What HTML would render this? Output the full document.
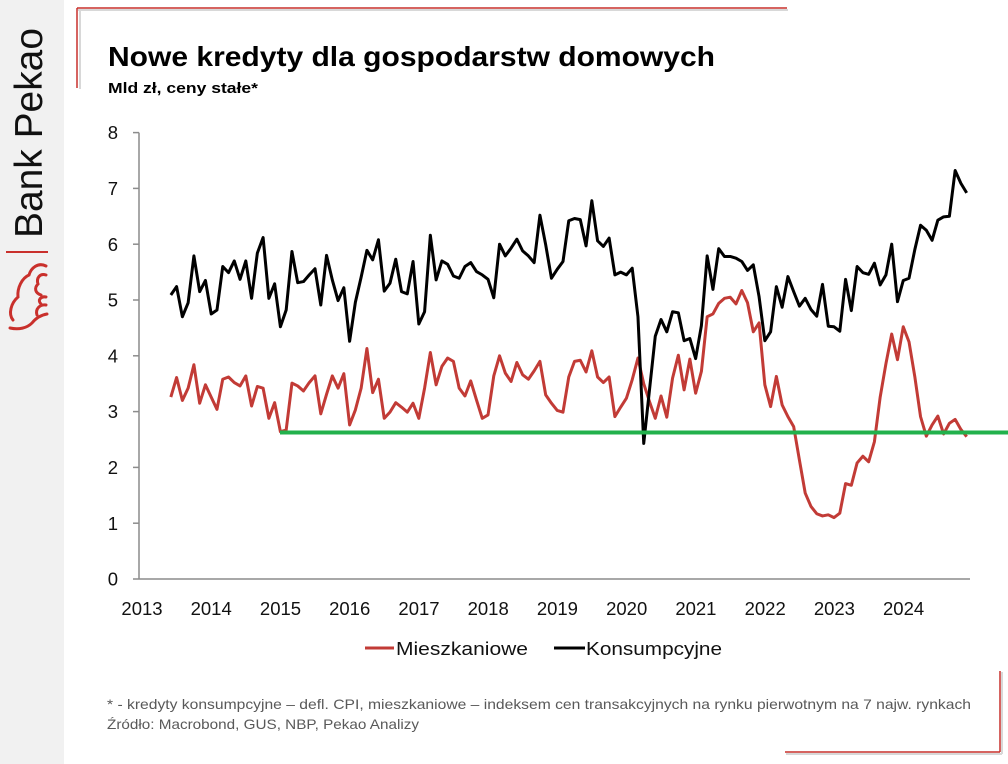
<!DOCTYPE html>
<html>
<head>
<meta charset="utf-8">
<style>
  html, body { margin: 0; padding: 0; background: #ffffff; }
  body { width: 1008px; height: 764px; overflow: hidden; position: relative; }
  svg { display: block; }
  text { font-family: "Liberation Sans", "DejaVu Sans", sans-serif; }
</style>
</head>
<body>
<svg width="1008" height="764" viewBox="0 0 1008 764" xmlns="http://www.w3.org/2000/svg">
  <!-- background -->
  <rect x="0" y="0" width="1008" height="764" fill="#ffffff"/>
  <rect x="0" y="0" width="64" height="764" fill="#f1f1f1"/>

  <!-- left brand -->
  <text transform="translate(42,238) rotate(-90)" font-size="39" fill="#111111" textLength="210" lengthAdjust="spacingAndGlyphs">Bank Pekao</text>
  <line x1="6" y1="252" x2="48" y2="252" stroke="#c9302c" stroke-width="2"/>
  <g fill="none" stroke="#c9302c" stroke-width="3" stroke-linecap="round">
    <path d="M46,266 C38,262 31,268 29,275 C22,278 17,288 18,297 C11,303 8,314 13,320"/>
    <path d="M10,328 C19,330 27,328 32,323 C36,318 41,315 47,314"/>
    <path d="M46,275 C40,273 36,278 38,284 C34,288 35,293 41,295"/>
    <path d="M46,297 C41,296 37,300 41,304"/>
    <path d="M46,305 C40,304 35,309 37,315"/>
  </g>

  <!-- decorative frames -->
  <line x1="78" y1="10" x2="788" y2="10" stroke="#d8d8d8" stroke-width="2"/>
  <line x1="80" y1="10" x2="80" y2="89" stroke="#d8d8d8" stroke-width="2"/>
  <line x1="77" y1="8" x2="787" y2="8" stroke="#c9302c" stroke-width="1.5"/>
  <line x1="77" y1="8" x2="77" y2="88" stroke="#c9302c" stroke-width="1.5"/>

  <line x1="1002" y1="672" x2="1002" y2="754" stroke="#d8d8d8" stroke-width="2"/>
  <line x1="786" y1="754" x2="1002" y2="754" stroke="#d8d8d8" stroke-width="2"/>
  <line x1="1000" y1="671" x2="1000" y2="752" stroke="#c9302c" stroke-width="1.5"/>
  <line x1="785" y1="752" x2="1000" y2="752" stroke="#c9302c" stroke-width="1.5"/>

  <!-- titles -->
  <text x="108" y="66" font-size="28" font-weight="bold" fill="#000" textLength="607" lengthAdjust="spacingAndGlyphs">Nowe kredyty dla gospodarstw domowych</text>
  <text x="108" y="93" font-size="15" font-weight="bold" fill="#000" textLength="150" lengthAdjust="spacingAndGlyphs">Mld zł, ceny stałe*</text>

  <!-- axes -->
  <g stroke="#8c8c8c" stroke-width="1.5">
    <line x1="139" y1="132.6" x2="139" y2="579"/>
    <line x1="133" y1="579" x2="970" y2="579"/>
    <line x1="133" y1="132.6" x2="139" y2="132.6"/>
    <line x1="133" y1="188.4" x2="139" y2="188.4"/>
    <line x1="133" y1="244.2" x2="139" y2="244.2"/>
    <line x1="133" y1="300" x2="139" y2="300"/>
    <line x1="133" y1="355.8" x2="139" y2="355.8"/>
    <line x1="133" y1="411.6" x2="139" y2="411.6"/>
    <line x1="133" y1="467.4" x2="139" y2="467.4"/>
    <line x1="133" y1="523.2" x2="139" y2="523.2"/>
  </g>

  <!-- y labels -->
  <g font-size="18.5" fill="#111" text-anchor="end">
    <text x="118" y="139.2">8</text>
    <text x="118" y="195">7</text>
    <text x="118" y="250.8">6</text>
    <text x="118" y="306.6">5</text>
    <text x="118" y="362.4">4</text>
    <text x="118" y="418.2">3</text>
    <text x="118" y="474">2</text>
    <text x="118" y="529.8">1</text>
    <text x="118" y="585.6">0</text>
  </g>

  <!-- x labels -->
  <g font-size="18.5" fill="#111" text-anchor="middle">
    <text x="142" y="615">2013</text>
    <text x="211.2" y="615">2014</text>
    <text x="280.5" y="615">2015</text>
    <text x="349.7" y="615">2016</text>
    <text x="419" y="615">2017</text>
    <text x="488.2" y="615">2018</text>
    <text x="557.4" y="615">2019</text>
    <text x="626.7" y="615">2020</text>
    <text x="695.9" y="615">2021</text>
    <text x="765.2" y="615">2022</text>
    <text x="834.4" y="615">2023</text>
    <text x="903.6" y="615">2024</text>
  </g>

  <!-- series -->
  <g transform="translate(142,579) scale(5.767,-55.8)">
    <polyline fill="none" stroke="#c23b36" stroke-width="3" stroke-linejoin="round" vector-effect="non-scaling-stroke"
      points="5,3.26 6,3.61 7,3.20 8,3.42 9,3.84 10,3.15 11,3.48 12,3.26 13,3.04 14,3.58 15,3.62 16,3.52 17,3.46 18,3.64 19,3.10 20,3.45 21,3.42 22,2.88 23,3.16 24,2.64 25,2.67 26,3.51 27,3.46 28,3.37 29,3.52 30,3.64 31,2.96 32,3.31 33,3.64 34,3.42 35,3.68 36,2.76 37,3.03 38,3.42 39,4.13 40,3.34 41,3.58 42,2.88 43,2.99 44,3.16 45,3.08 46,2.99 47,3.15 48,2.88 49,3.42 50,4.06 51,3.48 52,3.81 53,3.96 54,3.90 55,3.42 56,3.28 57,3.55 58,3.21 59,2.88 60,2.94 61,3.64 62,4.00 63,3.69 64,3.54 65,3.88 66,3.66 67,3.58 68,3.73 69,3.90 70,3.30 71,3.15 72,3.02 73,2.99 74,3.62 75,3.90 76,3.92 77,3.71 78,4.09 79,3.62 80,3.52 81,3.62 82,2.91 83,3.08 84,3.24 85,3.57 86,3.96 87,3.50 88,3.18 89,2.88 90,3.28 91,2.90 92,3.60 93,4.01 94,3.39 95,3.94 96,3.33 97,3.72 98,4.70 99,4.75 100,4.94 101,5.03 102,5.05 103,4.93 104,5.17 105,4.95 106,4.43 107,4.59 108,3.48 109,3.09 110,3.63 111,3.12 112,2.91 113,2.73 114,2.13 115,1.54 116,1.30 117,1.17 118,1.13 119,1.15 120,1.10 121,1.18 122,1.71 123,1.68 124,2.08 125,2.20 126,2.10 127,2.46 128,3.26 129,3.86 130,4.39 131,3.93 132,4.52 133,4.25 134,3.63 135,2.91 136,2.56 137,2.76 138,2.92 139,2.60 140,2.79 141,2.86 142,2.68 143,2.55"/>
    <polyline fill="none" stroke="#000000" stroke-width="3" stroke-linejoin="round" vector-effect="non-scaling-stroke"
      points="5,5.09 6,5.24 7,4.70 8,4.95 9,5.79 10,5.15 11,5.35 12,4.75 13,4.82 14,5.60 15,5.49 16,5.70 17,5.37 18,5.70 19,5.03 20,5.84 21,6.12 22,5.03 23,5.29 24,4.52 25,4.82 26,5.87 27,5.31 28,5.33 29,5.45 30,5.56 31,4.91 32,5.80 33,5.36 34,4.99 35,5.22 36,4.26 37,4.96 38,5.41 39,5.89 40,5.72 41,6.08 42,5.16 43,5.30 44,5.73 45,5.15 46,5.11 47,5.69 48,4.57 49,4.79 50,6.16 51,5.36 52,5.70 53,5.64 54,5.43 55,5.39 56,5.60 57,5.67 58,5.51 59,5.45 60,5.37 61,5.04 62,6.00 63,5.79 64,5.93 65,6.09 66,5.88 67,5.79 68,5.67 69,6.52 70,5.99 71,5.39 72,5.55 73,5.69 74,6.42 75,6.46 76,6.44 77,5.97 78,6.78 79,6.06 80,5.96 81,6.11 82,5.45 83,5.50 84,5.45 85,5.57 86,4.70 87,2.43 88,3.39 89,4.35 90,4.65 91,4.43 92,4.79 93,4.77 94,4.27 95,4.31 96,3.95 97,4.54 98,5.79 99,5.19 100,5.92 101,5.78 102,5.78 103,5.75 104,5.69 105,5.53 106,5.63 107,5.06 108,4.27 109,4.43 110,5.24 111,4.87 112,5.42 113,5.15 114,4.89 115,5.03 116,4.83 117,4.71 118,5.28 119,4.53 120,4.52 121,4.44 122,5.37 123,4.81 124,5.60 125,5.49 126,5.46 127,5.66 128,5.27 129,5.45 130,6.00 131,4.97 132,5.35 133,5.39 134,5.90 135,6.34 136,6.25 137,6.07 138,6.43 139,6.49 140,6.50 141,7.32 142,7.09 143,6.92"/>
  </g>

  <!-- green reference line -->
  <line x1="280" y1="432.5" x2="1008" y2="432.5" stroke="#22b14c" stroke-width="4"/>

  <!-- legend -->
  <line x1="365" y1="648" x2="394" y2="648" stroke="#c23b36" stroke-width="3"/>
  <text x="396" y="655" font-size="18.5" fill="#111" textLength="132" lengthAdjust="spacingAndGlyphs">Mieszkaniowe</text>
  <line x1="554" y1="648" x2="585" y2="648" stroke="#000" stroke-width="3"/>
  <text x="586" y="655" font-size="18.5" fill="#111" textLength="136" lengthAdjust="spacingAndGlyphs">Konsumpcyjne</text>

  <!-- footnote -->
  <text x="107" y="709" font-size="14" fill="#595959" textLength="864" lengthAdjust="spacingAndGlyphs">* - kredyty konsumpcyjne – defl. CPI, mieszkaniowe – indeksem cen transakcyjnych na rynku pierwotnym na 7 najw. rynkach</text>
  <text x="107" y="729" font-size="14" fill="#595959" textLength="312" lengthAdjust="spacingAndGlyphs">Źródło: Macrobond, GUS, NBP, Pekao Analizy</text>
</svg>
</body>
</html>
